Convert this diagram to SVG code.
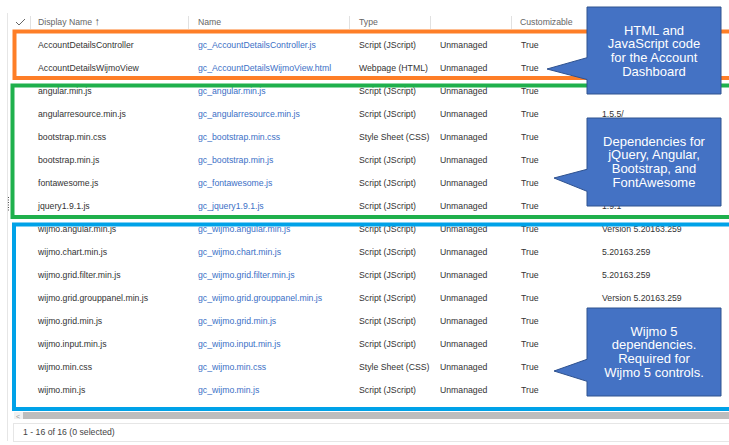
<svg xmlns="http://www.w3.org/2000/svg" width="729" height="445" viewBox="0 0 729 445">
<style>
text{font-family:"Liberation Sans",Arial,sans-serif;font-size:8.7px;fill:#333}
.hd{fill:#666}
.ln{fill:#3b6fc6}
.sep{stroke:#e1e1e1;stroke-width:1}
.grp{fill:none;stroke-width:4}
.co{fill:#4472c4;stroke:#2f528f;stroke-width:1}
.ct{font-size:13px;fill:#ffffff;text-anchor:middle}
</style>
<rect width="729" height="445" fill="#ffffff"/>
<g id="frame">
<line x1="7.5" y1="13" x2="7.5" y2="441" stroke="#e6e6e6"/>
<line x1="8.5" y1="197" x2="8.5" y2="211" stroke="#555" stroke-dasharray="1,1.5"/>
</g>
<g id="header">
<polyline points="16,22 19,25 25,19" fill="none" stroke="#666" stroke-width="1"/>
<line class="sep" x1="30.5" y1="16" x2="30.5" y2="29"/>
<line class="sep" x1="188.5" y1="16" x2="188.5" y2="29"/>
<line class="sep" x1="349.5" y1="16" x2="349.5" y2="29"/>
<line class="sep" x1="430.5" y1="16" x2="430.5" y2="29"/>
<line class="sep" x1="511.5" y1="16" x2="511.5" y2="29"/>
<text class="hd" x="38" y="25">Display Name <tspan style="font-size:11px;fill:#555">↑</tspan></text>
<text class="hd" x="198" y="25">Name</text>
<text class="hd" x="359" y="25">Type</text>
<text class="hd" x="520" y="25">Customizable</text>
</g>
<g id="rows">
<g id="row1"><text x="38" y="48.3">AccountDetailsController</text><text class="ln" x="198" y="48.3">gc_AccountDetailsController.js</text><text x="359" y="48.3">Script (JScript)</text><text x="440" y="48.3">Unmanaged</text><text x="521" y="48.3">True</text></g>
<g id="row2"><text x="38" y="71.3">AccountDetailsWijmoView</text><text class="ln" x="198" y="71.3">gc_AccountDetailsWijmoView.html</text><text x="359" y="71.3">Webpage (HTML)</text><text x="440" y="71.3">Unmanaged</text><text x="521" y="71.3">True</text></g>
<g id="row3"><text x="38" y="94.3">angular.min.js</text><text class="ln" x="198" y="94.3">gc_angular.min.js</text><text x="359" y="94.3">Script (JScript)</text><text x="440" y="94.3">Unmanaged</text><text x="521" y="94.3">True</text></g>
<g id="row4"><text x="38" y="117.3">angularresource.min.js</text><text class="ln" x="198" y="117.3">gc_angularresource.min.js</text><text x="359" y="117.3">Script (JScript)</text><text x="440" y="117.3">Unmanaged</text><text x="521" y="117.3">True</text><text x="602" y="117.3">1.5.5/</text></g>
<g id="row5"><text x="38" y="140.3">bootstrap.min.css</text><text class="ln" x="198" y="140.3">gc_bootstrap.min.css</text><text x="359" y="140.3">Style Sheet (CSS)</text><text x="440" y="140.3">Unmanaged</text><text x="521" y="140.3">True</text></g>
<g id="row6"><text x="38" y="163.3">bootstrap.min.js</text><text class="ln" x="198" y="163.3">gc_bootstrap.min.js</text><text x="359" y="163.3">Script (JScript)</text><text x="440" y="163.3">Unmanaged</text><text x="521" y="163.3">True</text></g>
<g id="row7"><text x="38" y="186.3">fontawesome.js</text><text class="ln" x="198" y="186.3">gc_fontawesome.js</text><text x="359" y="186.3">Script (JScript)</text><text x="440" y="186.3">Unmanaged</text><text x="521" y="186.3">True</text></g>
<g id="row8"><text x="38" y="209.3">jquery1.9.1.js</text><text class="ln" x="198" y="209.3">gc_jquery1.9.1.js</text><text x="359" y="209.3">Script (JScript)</text><text x="440" y="209.3">Unmanaged</text><text x="521" y="209.3">True</text><text x="602" y="209.3">1.9.1</text></g>
<g id="row9"><text x="38" y="232.3">wijmo.angular.min.js</text><text class="ln" x="198" y="232.3">gc_wijmo.angular.min.js</text><text x="359" y="232.3">Script (JScript)</text><text x="440" y="232.3">Unmanaged</text><text x="521" y="232.3">True</text><text x="602" y="232.3">Version 5.20163.259</text></g>
<g id="row10"><text x="38" y="255.3">wijmo.chart.min.js</text><text class="ln" x="198" y="255.3">gc_wijmo.chart.min.js</text><text x="359" y="255.3">Script (JScript)</text><text x="440" y="255.3">Unmanaged</text><text x="521" y="255.3">True</text><text x="602" y="255.3">5.20163.259</text></g>
<g id="row11"><text x="38" y="278.3">wijmo.grid.filter.min.js</text><text class="ln" x="198" y="278.3">gc_wijmo.grid.filter.min.js</text><text x="359" y="278.3">Script (JScript)</text><text x="440" y="278.3">Unmanaged</text><text x="521" y="278.3">True</text><text x="602" y="278.3">5.20163.259</text></g>
<g id="row12"><text x="38" y="301.3">wijmo.grid.grouppanel.min.js</text><text class="ln" x="198" y="301.3">gc_wijmo.grid.grouppanel.min.js</text><text x="359" y="301.3">Script (JScript)</text><text x="440" y="301.3">Unmanaged</text><text x="521" y="301.3">True</text><text x="602" y="301.3">Version 5.20163.259</text></g>
<g id="row13"><text x="38" y="324.3">wijmo.grid.min.js</text><text class="ln" x="198" y="324.3">gc_wijmo.grid.min.js</text><text x="359" y="324.3">Script (JScript)</text><text x="440" y="324.3">Unmanaged</text><text x="521" y="324.3">True</text></g>
<g id="row14"><text x="38" y="347.3">wijmo.input.min.js</text><text class="ln" x="198" y="347.3">gc_wijmo.input.min.js</text><text x="359" y="347.3">Script (JScript)</text><text x="440" y="347.3">Unmanaged</text><text x="521" y="347.3">True</text></g>
<g id="row15"><text x="38" y="370.3">wijmo.min.css</text><text class="ln" x="198" y="370.3">gc_wijmo.min.css</text><text x="359" y="370.3">Style Sheet (CSS)</text><text x="440" y="370.3">Unmanaged</text><text x="521" y="370.3">True</text></g>
<g id="row16"><text x="38" y="393.3">wijmo.min.js</text><text class="ln" x="198" y="393.3">gc_wijmo.min.js</text><text x="359" y="393.3">Script (JScript)</text><text x="440" y="393.3">Unmanaged</text><text x="521" y="393.3">True</text></g>
</g>
<g id="footer">
<rect x="14" y="412" width="9" height="7" fill="#f0f0f0"/>
<text x="16" y="418.5" style="font-size:7px;fill:#999">&lt;</text>
<rect x="23" y="412" width="706" height="7" fill="#bdbdbd"/>
<line x1="13" y1="423.5" x2="729" y2="423.5" stroke="#e6e6e6"/>
<line x1="13" y1="441.5" x2="729" y2="441.5" stroke="#e6e6e6"/>
<line x1="13.5" y1="423" x2="13.5" y2="442" stroke="#e6e6e6"/>
<text x="23" y="435" style="fill:#444">1 - 16 of 16 (0 selected)</text>
</g>
<g id="box-orange"><rect class="grp" x="14.5" y="31.5" width="730" height="46.5" stroke="#fe7e27"/></g>
<g id="box-green"><rect class="grp" x="12.5" y="85.5" width="730" height="131.5" stroke="#1fb04c"/></g>
<g id="box-blue"><rect class="grp" x="14" y="224.5" width="730" height="184.5" stroke="#00a2e8"/></g>
<g id="callout-html">
<polygon class="co" points="587,7 721,7 721,94 587,94 587,79.5 547,69 587,57.7"/>
<text class="ct" x="654" y="34.7">HTML and</text>
<text class="ct" x="654" y="48.4">JavaScript code</text>
<text class="ct" x="654" y="62.1">for the Account</text>
<text class="ct" x="654" y="75.8">Dashboard</text>
</g>
<g id="callout-deps">
<polygon class="co" points="587,118 721,118 721,206 587,206 587,191.3 554,178 587,169.3"/>
<text class="ct" x="654" y="145.7">Dependencies for</text>
<text class="ct" x="654" y="159.4">jQuery, Angular,</text>
<text class="ct" x="654" y="173.1">Bootstrap, and</text>
<text class="ct" x="654" y="186.8">FontAwesome</text>
</g>
<g id="callout-wijmo">
<polygon class="co" points="587,308 721,308 721,396 587,396 587,381.3 554,371 587,359.3"/>
<text class="ct" x="654" y="335.7">Wijmo 5</text>
<text class="ct" x="654" y="349.4">dependencies.</text>
<text class="ct" x="654" y="363.1">Required for</text>
<text class="ct" x="654" y="376.8">Wijmo 5 controls.</text>
</g>
</svg>
